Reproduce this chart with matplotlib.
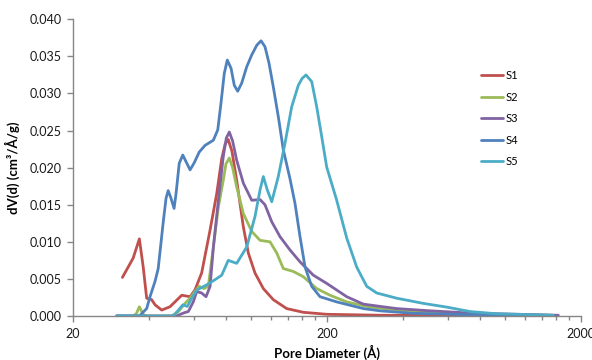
import matplotlib
matplotlib.use("Agg")
import matplotlib.pyplot as plt
from matplotlib.ticker import FixedLocator, FixedFormatter, MultipleLocator, FormatStrFormatter

plt.rcParams['font.family'] = ['Lato', 'DejaVu Sans']

# S1
s1_x = [31.3, 34.5, 36.5, 37.8, 39.0, 40.8, 42.1, 44.7, 48.2, 53.6, 57.8, 60.4, 64.2,
        69.3, 73.6, 77.0, 79.5, 81.7, 84.5, 88.2, 93.7, 98.0, 104.1, 112.3, 122.9, 138.8,
        161.3, 199.4, 323, 600, 1500]
s1_y = [0.0052, 0.0078, 0.0104, 0.0066, 0.0024, 0.0022, 0.0015, 0.0008, 0.00125, 0.0028,
        0.0026, 0.0035, 0.0058, 0.0116, 0.0165, 0.0212, 0.0232, 0.0238, 0.0222, 0.0183,
        0.0120, 0.0085, 0.0058, 0.0037, 0.0022, 0.0010, 0.0005, 0.00023, 0.0001, 0.00006,
        0.00003]

# S2
s2_x = [29.7, 34.5, 35.5, 36.5, 37.8, 39.0, 48.9, 52.0, 55.2, 57.8, 60.4, 62.8, 65.6, 68.2,
        71.4, 74.7, 78.1, 80.0, 82.5, 85.0, 88.2, 93.7, 101.1, 109.0, 119.3, 126.8, 134.6,
        147.4, 161.3, 182.2, 205.5, 239.2, 295.4, 437, 688, 1556]
s2_y = [0.0, 0.0, 0.0003, 0.00125, 0.0002, 0.0, 0.0, 0.0006, 0.0017, 0.0024, 0.0033, 0.0040,
        0.0037, 0.0040, 0.0093, 0.0147, 0.0183, 0.0205, 0.0213, 0.0200, 0.0174, 0.0138,
        0.0114, 0.0102, 0.0100, 0.0085, 0.0064, 0.0060, 0.0053, 0.0037, 0.0028, 0.0019,
        0.0012, 0.0006, 0.0003, 0.00008]

# S3
s3_x = [29.7, 51.2, 54.4, 56.9, 59.5, 61.4, 64.2, 66.8, 69.3, 71.4, 74.7, 78.1, 80.3, 82.5,
        85.0, 88.2, 93.7, 101.1, 109.0, 114.0, 121.2, 130.6, 143.0, 156.6, 176.7, 199.4,
        218.4, 239.2, 278, 323, 376, 509, 688, 932, 1628]
s3_y = [0.0, 0.0, 0.0004, 0.0006, 0.0019, 0.0033, 0.0031, 0.0026, 0.0040, 0.0093, 0.0156,
        0.0215, 0.0240, 0.0248, 0.0236, 0.0210, 0.0179, 0.0156, 0.0157, 0.0150, 0.0127,
        0.0107, 0.0089, 0.0073, 0.0055, 0.0044, 0.0035, 0.0026, 0.0016, 0.0013, 0.0010,
        0.0007, 0.00045, 0.0003, 0.0001]

# S4
s4_x = [29.7, 36.5, 39.0, 40.2, 42.1, 43.3, 45.4, 46.5, 47.4, 48.6, 50.0, 50.9, 52.4, 54.1,
        56.1, 57.8, 59.9, 62.8, 66.2, 71.4, 74.3, 76.5, 78.8, 81.0, 83.8, 86.3, 89.0, 92.3,
        96.6, 101.1, 105.8, 110.0, 114.0, 118.2, 122.9, 128.6, 134.6, 143.0, 149.6, 156.6,
        163.9, 174.1, 187.7, 218.4, 278, 323, 437, 688, 1556]
s4_y = [0.0, 0.0, 0.0010, 0.0026, 0.0047, 0.0064, 0.0129, 0.0159, 0.0169, 0.0159, 0.0145,
        0.0165, 0.0206, 0.0217, 0.0206, 0.0197, 0.0206, 0.0221, 0.0230, 0.0237, 0.0251,
        0.0287, 0.0327, 0.0345, 0.0334, 0.0311, 0.0303, 0.0314, 0.0336, 0.0352, 0.0365,
        0.0371, 0.0363, 0.0341, 0.0309, 0.0269, 0.0224, 0.0185, 0.0152, 0.0107, 0.0066,
        0.0040, 0.0026, 0.0019, 0.0010, 0.0007, 0.00036, 0.0002, 0.00005]

# S5
s5_x = [29.7, 49.7, 52.0, 54.1, 56.4, 58.7, 61.4, 67.2, 72.5, 77.0, 81.7, 88.2, 96.6, 104.1,
        109.0, 112.3, 116.4, 121.2, 128.6, 136.7, 145.2, 154.2, 159.4, 165.3, 174.1, 182.2,
        190.6, 199.4, 218.4, 239.2, 261.8, 286.7, 314, 376, 479, 592, 731, 932, 1556]
s5_y = [0.0, 0.0, 0.0008, 0.0015, 0.0013, 0.0024, 0.0035, 0.0042, 0.0049, 0.0055, 0.0075,
        0.0071, 0.0093, 0.0134, 0.0170, 0.0188, 0.0170, 0.0154, 0.0188, 0.0233, 0.0282,
        0.0311, 0.0320, 0.0325, 0.0316, 0.0282, 0.0242, 0.0201, 0.0156, 0.0105, 0.0066,
        0.0040, 0.0031, 0.0024, 0.0017, 0.0012, 0.0006, 0.0003, 0.0001]

series = [("S1", s1_x, s1_y, "#C0504D"),
          ("S2", s2_x, s2_y, "#9BBB59"),
          ("S3", s3_x, s3_y, "#8064A2"),
          ("S4", s4_x, s4_y, "#4F81BD"),
          ("S5", s5_x, s5_y, "#4BACC6")]

fig = plt.figure(figsize=(5.92, 3.6), dpi=100)
ax = fig.add_axes([73/592, 1-316/360, (581-73)/592, (316-19.3)/360])

for name, xs, ys, col in series:
    ax.plot(xs, ys, color=col, lw=2.0, label=name, solid_joinstyle='round',
            solid_capstyle='round')

ax.set_xscale('log')
ax.set_xlim(20, 2000)
ax.set_ylim(0, 0.04)
ax.xaxis.set_major_locator(FixedLocator([20, 200, 2000]))
ax.xaxis.set_major_formatter(FixedFormatter(['20', '200', '2000']))
minors = [20*k for k in range(2, 10)] + [200*k for k in range(2, 10)]
ax.xaxis.set_minor_locator(FixedLocator(minors))
ax.xaxis.set_minor_formatter(FixedFormatter([''] * len(minors)))
ax.yaxis.set_major_locator(MultipleLocator(0.005))
ax.yaxis.set_major_formatter(FormatStrFormatter('%.3f'))

for s in ['top', 'right']:
    ax.spines[s].set_visible(False)
for s in ['left', 'bottom']:
    ax.spines[s].set_color('#868686')
    ax.spines[s].set_linewidth(1.0)

ax.tick_params(axis='both', which='major', direction='out', length=4, width=1,
               color='#868686', labelsize=9, labelcolor='#1a1a1a')
ax.tick_params(axis='x', which='major', pad=5)
ax.tick_params(axis='y', which='major', pad=4)
ax.tick_params(axis='x', which='minor', direction='out', length=3, width=1, color='#868686')

ax.set_xlabel('Pore Diameter (Å)', fontsize=9.5, fontweight='bold', labelpad=3)
ax.set_ylabel('dV(d) (cm³/Å/g)', fontsize=9.5, fontweight='bold', labelpad=7)

ax.legend(loc='upper left', bbox_to_anchor=(481/592, 1-70/360), bbox_transform=fig.transFigure,
          frameon=False, fontsize=8, handlelength=2.0, handletextpad=0.2,
          labelspacing=0.95, borderpad=0, borderaxespad=0)

fig.savefig('out.png', dpi=100)
